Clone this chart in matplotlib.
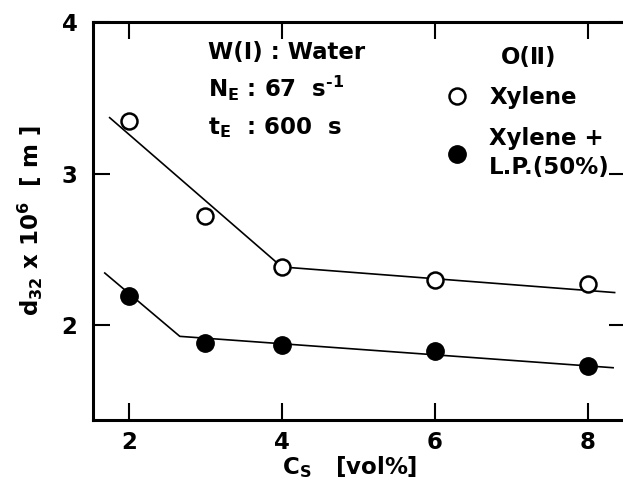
import numpy as np
import matplotlib
matplotlib.use("Agg")
import matplotlib.pyplot as plt

# surfactant concentration [vol%]
cs = [2, 3, 4, 6, 8]
# Sauter mean diameter x 1e6 [m]
d32_xylene = [3.35, 2.72, 2.385, 2.30, 2.27]
d32_xylene_lp = [2.19, 1.886, 1.873, 1.83, 1.73]

# hand-drawn trend lines (break points)
trend_xylene_x = [1.75, 4.0, 8.35]
trend_xylene_y = [3.37, 2.385, 2.216]
trend_lp_x = [1.686, 2.667, 8.33]
trend_lp_y = [2.345, 1.927, 1.72]

x_ticks = [2, 4, 6, 8]
y_ticks = [2, 3, 4]

plt.rcParams['font.family'] = 'DejaVu Sans'
plt.rcParams['font.weight'] = 'bold'
plt.rcParams['axes.labelweight'] = 'bold'
plt.rcParams['mathtext.default'] = 'regular'
fs = 16.5

fig = plt.figure(figsize=(6.23, 4.82), dpi=100)
ax = fig.add_axes([0.149, 0.1286, 0.856, 0.8254])

ax.plot(trend_xylene_x, trend_xylene_y, color='black', lw=1.2, zorder=2)
ax.plot(trend_lp_x, trend_lp_y, color='black', lw=1.2, zorder=2)
h_open, = ax.plot(cs, d32_xylene, ls='none', marker='o', ms=11.5, mfc='white',
                  mec='black', mew=1.8, zorder=3)
h_fill, = ax.plot(cs, d32_xylene_lp, ls='none', marker='o', ms=12.5, mfc='black',
                  mec='black', zorder=3)

ax.set_xlim(1.53, 8.5)
ax.set_ylim(1.375, 4.0)
ax.set_xticks(x_ticks)
ax.set_yticks(y_ticks)
ax.tick_params(direction='in', length=12, width=1.5, top=True, right=True,
               labelsize=fs)
ax.tick_params(axis='y', pad=11)
ax.tick_params(axis='x', pad=8)
for sp in ax.spines.values():
    sp.set_linewidth(2.2)

ax.set_xlabel(r'C$_S$   [vol%]', fontsize=fs)
ax.xaxis.set_label_coords(0.482, -0.085)
ax.set_ylabel(r'd$_{32}$ x 10$^6$  [ m ]', fontsize=fs, labelpad=12)

ax.text(3.03, 3.80, 'W(Ⅰ) : Water', fontsize=fs, va='center')
ax.text(3.03, 3.565, r'N$_E$ : 67  s$^{\text{-}1}$', fontsize=fs, va='center')
ax.text(3.03, 3.307, r't$_E$  : 600  s', fontsize=fs, va='center')

leg = ax.legend([h_open, h_fill], ['Xylene', 'Xylene +\nL.P.(50%)'],
                title='O(Ⅱ)', loc='upper left', bbox_to_anchor=(0.636, 0.98),
                frameon=False, fontsize=fs, title_fontsize=fs,
                handlelength=0.8, handletextpad=1.0, labelspacing=0.75,
                borderpad=0.2)
leg.get_texts()[1].set_linespacing(1.35)

fig.savefig('out.png', dpi=100)
